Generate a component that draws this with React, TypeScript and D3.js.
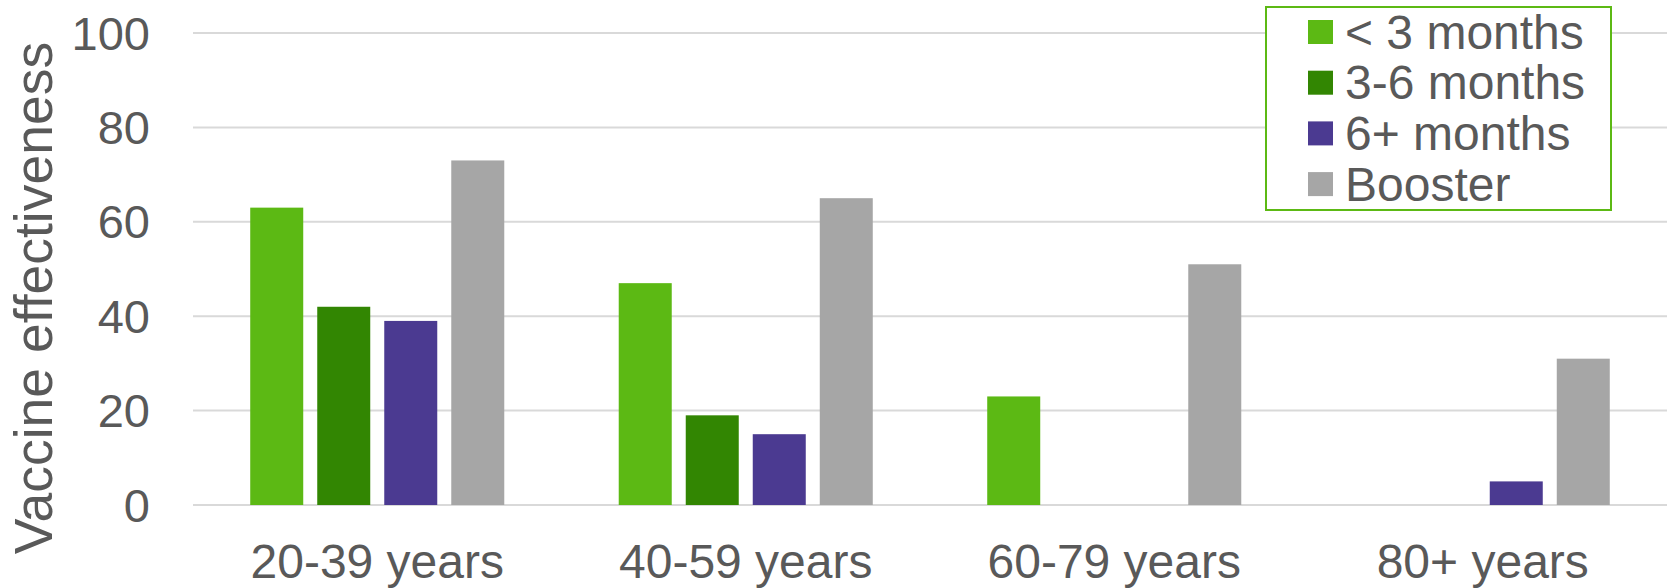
import React from "react";
import * as d3 from "d3";

// Vaccine effectiveness by age group and time since last dose
const ageGroups = ["20-39 years", "40-59 years", "60-79 years", "80+ years"];
const seriesNames = ["< 3 months", "3-6 months", "6+ months", "Booster"];
const seriesColors = ["#5cb914", "#328602", "#4b3a91", "#a6a6a6"];

const lessThan3Months = [63, 47, 23, 0];
const threeToSixMonths = [42, 19, 0, 0];
const sixPlusMonths = [39, 15, 0, 5];
const booster = [73, 65, 51, 31];

const yTicks = [0, 20, 40, 60, 80, 100];

const WIDTH = 1667;
const HEIGHT = 588;
const FONT = "'Liberation Sans', Arial, sans-serif";
const TEXT = "#595959";

export default function App() {
  const values = [lessThan3Months, threeToSixMonths, sixPlusMonths, booster];

  const plotLeft = 193;
  const plotRight = 1667;
  const y = d3.scaleLinear().domain([0, 100]).range([505, 33]);
  const x0 = d3.scaleBand<string>().domain(ageGroups).range([plotLeft, plotRight]).padding(0);
  const x1 = d3
    .scaleBand<string>()
    .domain(seriesNames)
    .range([0, x0.bandwidth()])
    .paddingInner(0.209)
    .paddingOuter(0.854);

  const legendX = 1266;
  const legendY = 7;
  const rowH = 50.7;

  return (
    <svg
      width={WIDTH}
      height={HEIGHT}
      style={{ position: "fixed", left: 0, top: 0, background: "#fff" }}
      fontFamily={FONT}
    >
      {/* gridlines */}
      {yTicks.map((t) => (
        <line
          key={t}
          x1={plotLeft}
          x2={plotRight}
          y1={y(t)}
          y2={y(t)}
          stroke="#d9d9d9"
          strokeWidth={2}
        />
      ))}
      {/* y tick labels */}
      {yTicks.map((t) => (
        <text
          key={"l" + t}
          x={150}
          y={y(t)}
          textAnchor="end"
          dominantBaseline="central"
          fontSize={47}
          fill={TEXT}
        >
          {t}
        </text>
      ))}
      {/* y axis title */}
      <text
        transform={`translate(52,298) rotate(-90)`}
        textAnchor="middle"
        fontSize={53.5}
        fill={TEXT}
      >
        Vaccine effectiveness
      </text>
      {/* bars */}
      {ageGroups.map((g, gi) => (
        <g key={g} transform={`translate(${x0(g)},0)`}>
          {seriesNames.map((s, si) => {
            const v = values[si][gi];
            if (v === 0) return null;
            return (
              <rect
                key={s}
                x={x1(s)}
                y={y(v)}
                width={x1.bandwidth()}
                height={y(0) - y(v)}
                fill={seriesColors[si]}
              />
            );
          })}
        </g>
      ))}
      {/* x labels */}
      {ageGroups.map((g) => (
        <text
          key={"x" + g}
          x={(x0(g) as number) + x0.bandwidth() / 2}
          y={578}
          textAnchor="middle"
          fontSize={48}
          fill={TEXT}
        >
          {g}
        </text>
      ))}
      {/* legend */}
      <rect
        x={legendX}
        y={legendY}
        width={345}
        height={203}
        fill="#fff"
        stroke="#5cb914"
        strokeWidth={2}
      />
      {seriesNames.map((s, i) => (
        <g key={"lg" + s} transform={`translate(${legendX + 42},${legendY + 13 + i * rowH})`}>
          <rect x={0} y={0} width={25} height={24} fill={seriesColors[i]} />
          <text x={37} y={12} dominantBaseline="central" fontSize={48} fill={TEXT}>
            {s}
          </text>
        </g>
      ))}
    </svg>
  );
}
